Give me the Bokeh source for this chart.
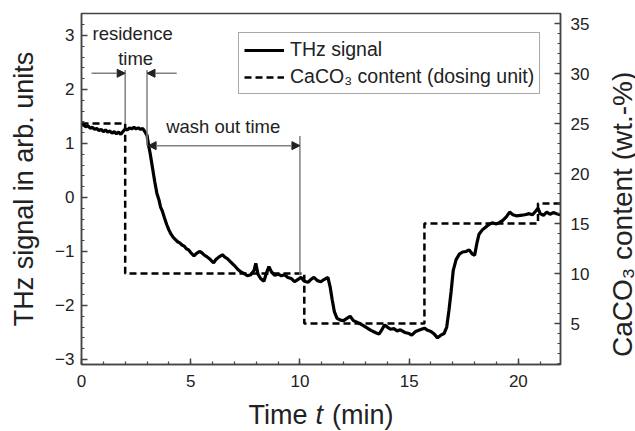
import math
from bokeh.plotting import figure
from bokeh.layouts import row, column
from bokeh.models import (Range1d, LinearAxis, FixedTicker, Legend, LegendItem,
                          Arrow, NormalHead, Label)
from bokeh.core.properties import value
from bokeh.embed import file_html
from bokeh.resources import INLINE

# ---- data ----
thz_t = [0.00, 0.10, 0.20, 0.30, 0.40, 0.50, 0.60, 0.70, 0.80, 0.90,
         1.00, 1.10, 1.20, 1.30, 1.40, 1.50, 1.60, 1.70, 1.80, 1.90,
         2.00, 2.10, 2.20, 2.30, 2.40, 2.50, 2.60, 2.70, 2.80, 2.90,
         3.00, 3.08, 3.15, 3.25, 3.35, 3.45, 3.55, 3.62, 3.70, 3.80,
         3.90, 4.00, 4.10, 4.20, 4.30, 4.40, 4.50, 4.60, 4.70, 4.80,
         4.90, 5.00, 5.15, 5.25, 5.40, 5.50, 5.60, 5.75, 5.90, 6.05,
         6.15, 6.30, 6.45, 6.55, 6.70, 6.85, 7.00, 7.15, 7.30, 7.45,
         7.60, 7.75, 7.90, 7.98, 8.08, 8.20, 8.35, 8.45, 8.58, 8.70,
         8.85, 9.00, 9.15, 9.30, 9.45, 9.60, 9.75, 9.90, 10.05, 10.20,
         10.37, 10.50, 10.64, 10.80, 10.96, 11.10, 11.28, 11.38, 11.48, 11.58,
         11.70, 11.85, 12.00, 12.15, 12.30, 12.45, 12.66, 12.85, 13.05, 13.25,
         13.45, 13.62, 13.75, 13.88, 14.00, 14.15, 14.30, 14.45, 14.60, 14.80,
         15.00, 15.12, 15.30, 15.50, 15.70, 15.85, 16.00, 16.15, 16.30, 16.45,
         16.60, 16.72, 16.82, 16.92, 17.02, 17.15, 17.30, 17.45, 17.60, 17.75,
         17.90, 18.00, 18.10, 18.20, 18.35, 18.50, 18.65, 18.80, 19.00, 19.15,
         19.30, 19.45, 19.60, 19.75, 19.90, 20.10, 20.30, 20.50, 20.65, 20.80,
         20.90, 21.00, 21.15, 21.30, 21.45, 21.60, 21.75, 21.93]
thz_v = [1.36, 1.34, 1.31, 1.33, 1.28, 1.30, 1.26, 1.28, 1.24, 1.26,
         1.22, 1.25, 1.21, 1.23, 1.19, 1.22, 1.18, 1.21, 1.17, 1.22,
         1.27, 1.25, 1.29, 1.27, 1.30, 1.27, 1.29, 1.26, 1.28, 1.22,
         1.15, 0.95, 0.80, 0.55, 0.30, 0.08, -0.05, -0.18, -0.25, -0.38,
         -0.50, -0.60, -0.68, -0.74, -0.78, -0.82, -0.84, -0.88, -0.90, -0.95,
         -0.97, -1.02, -1.08, -1.04, -1.00, -1.02, -1.06, -1.10, -1.15, -1.21,
         -1.15, -1.10, -1.06, -1.10, -1.14, -1.20, -1.26, -1.33, -1.38, -1.41,
         -1.45, -1.43, -1.35, -1.22, -1.42, -1.50, -1.55, -1.42, -1.28, -1.38,
         -1.44, -1.42, -1.45, -1.43, -1.48, -1.50, -1.56, -1.52, -1.48, -1.55,
         -1.57, -1.52, -1.48, -1.54, -1.56, -1.52, -1.48, -1.65, -1.90, -2.12,
         -2.24, -2.27, -2.28, -2.24, -2.20, -2.28, -2.32, -2.36, -2.41, -2.46,
         -2.50, -2.53, -2.45, -2.36, -2.40, -2.44, -2.43, -2.47, -2.45, -2.50,
         -2.52, -2.55, -2.48, -2.45, -2.42, -2.46, -2.48, -2.53, -2.60, -2.55,
         -2.52, -2.40, -2.10, -1.75, -1.35, -1.15, -1.05, -1.01, -1.00, -0.97,
         -1.05, -1.07, -0.85, -0.68, -0.60, -0.55, -0.50, -0.47, -0.49, -0.46,
         -0.42, -0.36, -0.27, -0.32, -0.34, -0.33, -0.32, -0.30, -0.32, -0.25,
         -0.20, -0.30, -0.33, -0.27, -0.31, -0.28, -0.30, -0.32]

dose_t = [0, 2.0, 10.2, 15.7, 20.9, 21.93]
dose_v = [25, 10, 5, 15, 17, 17]

x_ticks = [0, 5, 10, 15, 20]
left_ticks = [-3, -2, -1, 0, 1, 2, 3]
right_ticks = [5, 10, 15, 20, 25, 30, 35]

# annotation geometry (data units)
res_x = [2.0, 3.0]
res_y_top = [2.36, 2.36]
res_y_bot = [1.36, 0.96]
wash_x = [10.0]
wash_y_top = [1.14]
wash_y_bot = [-1.44]

FONT = "Liberation Sans"
AX = "#444444"
TXT = "#222222"

MAIN_W, MAIN_H = 595, 395
SIDE_W = 635 - MAIN_W
BOT_H = 431 - MAIN_H

p = figure(width=MAIN_W, height=MAIN_H, x_range=Range1d(0, 21.93), y_range=Range1d(-3.093, 3.407),
           output_backend="svg", toolbar_location=None,
           min_border_left=81, min_border_right=MAIN_W - 560, min_border_top=13,
           min_border_bottom=MAIN_H - 364)
p.extra_y_ranges = {"right": Range1d(0.9, 36.0)}
p.xgrid.visible = False
p.ygrid.visible = False
p.outline_line_color = AX
p.outline_line_width = 1.5
p.background_fill_color = "white"
p.border_fill_color = "white"

def style_axis(ax, ticks, minor):
    ax.ticker = FixedTicker(ticks=ticks, minor_ticks=minor)
    ax.axis_line_color = AX
    ax.axis_line_width = 1.5
    ax.major_tick_line_color = AX
    ax.minor_tick_line_color = AX
    ax.major_tick_line_width = 1.5
    ax.minor_tick_line_width = 1.2
    ax.major_tick_in = 6
    ax.major_tick_out = 0
    ax.minor_tick_in = 3
    ax.minor_tick_out = 0
    ax.major_label_text_font = FONT
    ax.major_label_text_font_size = "17px"
    ax.major_label_text_color = TXT
    ax.axis_label_text_font = FONT
    ax.axis_label_text_font_style = "normal"
    ax.axis_label_text_color = TXT
    ax.axis_label_text_font_size = "27px"

xa = p.xaxis[0]
style_axis(xa, x_ticks, [i * 1.0 for i in range(0, 22)])
xa.major_label_standoff = 10

ya = p.yaxis[0]
style_axis(ya, left_ticks, [round(-3 + 0.2 * i, 2) for i in range(0, 33)])
ya.major_label_standoff = 7
ya.axis_label = "THz signal in arb. units"
ya.axis_label_standoff = 13

ra = LinearAxis(y_range_name="right")
style_axis(ra, right_ticks, [float(i) for i in range(1, 36)])
ra.major_label_standoff = 10
p.add_layout(ra, "right")

# curves
r_thz = p.line(thz_t, thz_v, line_color="black", line_width=3.2)
r_dose = p.step(dose_t, dose_v, mode="after", y_range_name="right",
                line_color="black", line_width=2.5, line_dash="7 4")

# annotation lines
p.segment(x0=res_x, y0=res_y_top, x1=res_x, y1=res_y_bot, line_color="#808080", line_width=1.5)
p.segment(x0=wash_x, y0=wash_y_top, x1=wash_x, y1=wash_y_bot, line_color="#808080", line_width=1.5)

def head():
    return NormalHead(size=8, fill_color="#222222", line_color="#222222", line_width=1)

p.add_layout(Arrow(end=head(), x_start=0.46, y_start=2.30, x_end=2.0, y_end=2.30,
                   line_color="#808080", line_width=1.5))
p.add_layout(Arrow(end=head(), x_start=4.36, y_start=2.30, x_end=3.0, y_end=2.30,
                   line_color="#808080", line_width=1.5))
p.add_layout(Arrow(start=head(), end=head(), x_start=3.05, y_start=0.96, x_end=10.0, y_end=0.96,
                   line_color="#808080", line_width=1.5))

def lab(x, y, text, size="18.5px", align="center"):
    p.add_layout(Label(x=x, y=y, text=text, text_font=FONT, text_font_size=size,
                       text_align=align, text_baseline="alphabetic", text_color=TXT))

lab(2.34, 3.04, "residence")
lab(2.48, 2.58, "time")
lab(6.49, 1.31, "wash out time")

legend = Legend(items=[LegendItem(label="THz signal", renderers=[r_thz]),
                       LegendItem(label="CaCO\u2083 content (dosing unit)", renderers=[r_dose])],
                location=(157, 270))
legend.label_text_font = FONT
legend.label_text_font_size = "19.5px"
legend.label_text_color = TXT
legend.glyph_width = 40
legend.glyph_height = 20
legend.label_standoff = 6
legend.padding = 5
legend.spacing = 4
legend.margin = 0
legend.border_line_color = "#555555"
legend.border_line_width = 1.5
legend.background_fill_alpha = 1.0
p.add_layout(legend)

# ---- right axis title panel (pixel coordinates) ----
p2 = figure(width=SIDE_W, height=MAIN_H, x_range=Range1d(0, SIDE_W), y_range=Range1d(0, MAIN_H),
            x_axis_type=None, y_axis_type=None, output_backend="svg", toolbar_location=None,
            min_border=0, outline_line_color=None)
p2.grid.visible = False
p2.text(x=[27], y=[MAIN_H - 226], text=["CaCO\u2083 content (wt.-%)"], angle=math.pi / 2,
        text_align="center", text_baseline="alphabetic", text_font=value(FONT),
        text_font_size="28px", text_color=TXT)

# ---- bottom axis title panel (pixel coordinates) ----
p3 = figure(width=635, height=BOT_H, x_range=Range1d(0, 635), y_range=Range1d(0, BOT_H),
            x_axis_type=None, y_axis_type=None, output_backend="svg", toolbar_location=None,
            min_border=0, outline_line_color=None)
p3.grid.visible = False
base_y = 17
p3.text(x=[248], y=[base_y], text=["Time"], text_align="left", text_baseline="alphabetic",
        text_font=value(FONT), text_font_size="27px", text_color=TXT)
p3.text(x=[315], y=[base_y], text=["t"], text_align="left", text_baseline="alphabetic",
        text_font=value(FONT), text_font_size="27px", text_font_style="italic", text_color=TXT)
p3.text(x=[393], y=[base_y], text=["(min)"], text_align="right", text_baseline="alphabetic",
        text_font=value(FONT), text_font_size="27px", text_color=TXT)

layout = column(row(p, p2, spacing=0), p3, spacing=0)
open("out.html", "w").write(file_html(layout, INLINE))
